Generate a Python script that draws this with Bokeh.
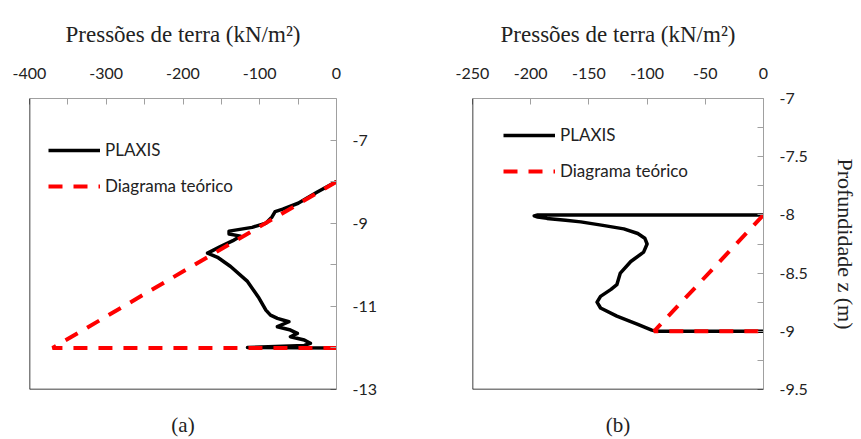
from bokeh.plotting import figure
from bokeh.layouts import row
from bokeh.models import FixedTicker, CustomJSTickFormatter, Span, LinearAxis
from bokeh.embed import file_html
from bokeh.resources import INLINE

# Panel (a): earth pressure (kN/m2) against depth z (m)
plaxis_a_p = [0, -25, -50, -70, -80, -84, -92, -110, -140, -140, -125, -135,
              -152, -168, -155, -138, -116, -101, -92, -86, -77, -62, -77,
              -60, -51, -60, -42, -34, -42, -116, 0]
plaxis_a_z = [-8, -8.25, -8.52, -8.66, -8.72, -8.85, -9.0, -9.1, -9.19, -9.26,
              -9.31, -9.42, -9.57, -9.72, -9.82, -10.04, -10.40, -10.80, -11.09,
              -11.21, -11.29, -11.37, -11.49, -11.57, -11.65, -11.73, -11.81,
              -11.89, -11.94, -11.99, -12]
theory_a_p = [0, -370, 0]
theory_a_z = [-8, -12, -12]

# Panel (b)
plaxis_b_p = [0, -150, -194, -197, -194, -186, -170, -157, -138, -120, -108,
              -102, -100, -103, -114, -123, -126, -131, -140, -143, -140, -126,
              -108, -96, -92, 0]
plaxis_b_z = [-8, -8, -8.0, -8.008, -8.018, -8.03, -8.045, -8.06, -8.09,
              -8.12, -8.16, -8.20, -8.25, -8.32, -8.40, -8.50, -8.60, -8.64,
              -8.70, -8.75, -8.80, -8.87, -8.94, -8.99, -9.0, -9.0]
theory_b_p = [0, -94, 0]
theory_b_z = [-8, -9, -9]

# Axis ticks
xticks_a = [-400, -300, -200, -100, 0]
xminor_a = [-350, -250, -150, -50]
yticks_a = [-13, -11, -9, -7]
yminor_a = [-12, -10, -8]
xticks_b = [-250, -200, -150, -100, -50, 0]
yticks_b = [-9.5, -9, -8.5, -8, -7.5, -7]
yminor_b = [-9.25, -8.75, -8.25, -7.75, -7.25]

TITLE = "Pressões de terra (kN/m²)"
YLABEL = "Profundidade z (m)"
SERIF = "Liberation Serif"
SANS = "Lato"
AXIS_GREY = "#a0a0a0"
TEXT = "#222222"


def serif_label(ax, text, size, standoff):
    ax.axis_label = text
    ax.axis_label_text_font = SERIF
    ax.axis_label_text_font_size = size
    ax.axis_label_text_font_style = "normal"
    ax.axis_label_text_color = TEXT
    ax.axis_label_standoff = standoff


def panel(width, height, borders, xr, yr, xt, xm, yt, ym, caption,
          ylabel=None):
    left, right, top, bottom = borders
    p = figure(width=width, height=height, x_range=xr, y_range=yr,
               x_axis_location="above", y_axis_location="right",
               toolbar_location=None, output_backend="svg",
               min_border_left=left, min_border_right=right,
               min_border_top=top, min_border_bottom=bottom)
    p.outline_line_color = None
    p.grid.visible = False
    p.background_fill_color = "white"
    p.border_fill_color = "white"

    top_ax = p.above[0]
    right_ax = p.right[0]
    fmt = CustomJSTickFormatter(code="return tick.toString()")
    for ax, t, m in ((top_ax, xt, xm), (right_ax, yt, ym)):
        ax.ticker = FixedTicker(ticks=t, minor_ticks=m)
        ax.formatter = fmt
        ax.axis_line_color = AXIS_GREY
        ax.major_tick_line_color = AXIS_GREY
        ax.minor_tick_line_color = AXIS_GREY
        ax.major_tick_in = 6
        ax.major_tick_out = 0
        ax.minor_tick_in = 6
        ax.minor_tick_out = 0
        ax.major_label_text_font = SANS
        ax.major_label_text_font_size = "16px"
        ax.major_label_text_color = TEXT

    top_ax.major_label_standoff = 20
    serif_label(top_ax, TITLE, "23px", 18)
    right_ax.major_label_standoff = 16
    if ylabel:
        serif_label(right_ax, ylabel, "22px", 22)

    # caption under the plot area, carried by a tick-less axis
    cap_ax = LinearAxis(ticker=FixedTicker(ticks=[]), axis_line_color=None,
                        major_tick_in=0, major_tick_out=0,
                        minor_tick_in=0, minor_tick_out=0,
                        major_label_standoff=0)
    serif_label(cap_ax, caption, "21px", 23)
    p.add_layout(cap_ax, "below")

    # black frame edges on the left and bottom of the plot area
    p.add_layout(Span(location=xr[0], dimension="height",
                      line_color="black", line_width=1.5))
    p.add_layout(Span(location=yr[0], dimension="width",
                      line_color="black", line_width=1.5))
    return p


def add_series(p, pl_p, pl_z, th_p, th_z, legend_loc):
    p.line(pl_p, pl_z, line_color="black", line_width=3.5,
           line_join="round", legend_label="PLAXIS")
    p.line(th_p, th_z, line_color="#ff0000", line_width=4,
           line_dash="14 11", legend_label="Diagrama teórico")
    lg = p.legend[0]
    lg.location = legend_loc
    lg.border_line_color = None
    lg.background_fill_alpha = 0
    lg.padding = 0
    lg.margin = 0
    lg.spacing = 15
    lg.glyph_width = 52
    lg.glyph_height = 20
    lg.label_height = 20
    lg.label_standoff = 5
    lg.label_text_font = SANS
    lg.label_text_font_size = "17px"
    lg.label_text_color = TEXT


pa = panel(430, 439, (29, 94, 98, 48), (-400, 0), (-13, -6),
           xticks_a, xminor_a, yticks_a, yminor_a, "(a)")
add_series(pa, plaxis_a_p, plaxis_a_z, theory_a_p, theory_a_z, (19, 193))

pb = panel(431, 439, (42, 98, 98, 48), (-250, 0), (-9.5, -7),
           xticks_b, [], yticks_b, yminor_b, "(b)", ylabel=YLABEL)
add_series(pb, plaxis_b_p, plaxis_b_z, theory_b_p, theory_b_z, (31, 208))

layout = row(pa, pb, spacing=0)
open("out.html", "w").write(file_html(layout, INLINE))
